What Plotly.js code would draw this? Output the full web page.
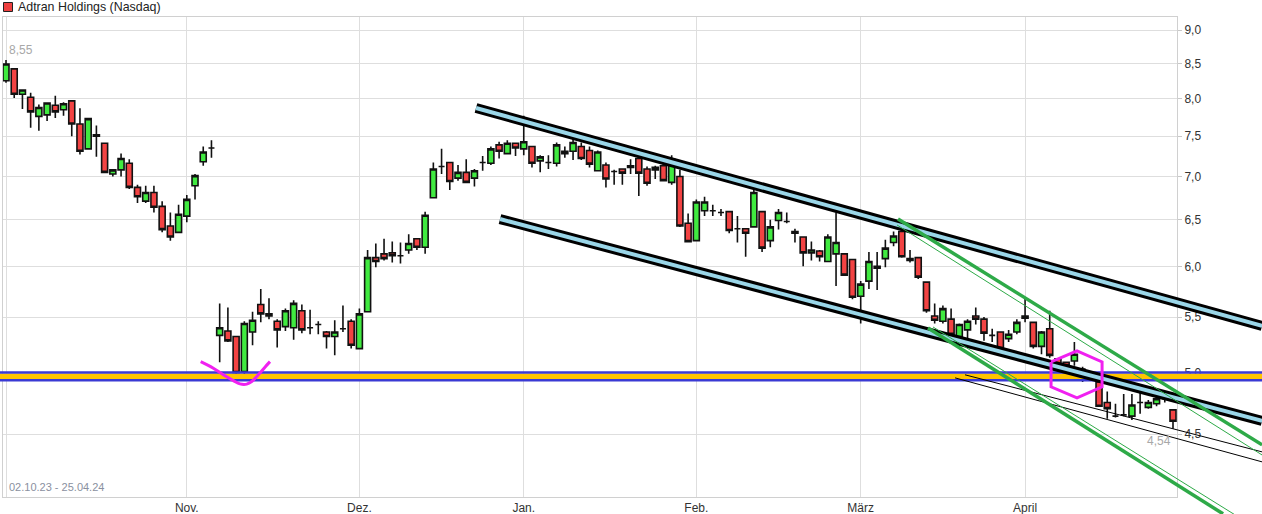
<!DOCTYPE html>
<html><head><meta charset="utf-8">
<script src="https://cdn.plot.ly/plotly-3.0.1.min.js"></script>
<style>html,body{margin:0;padding:0;background:#fff}#chart{width:1262px;height:514px}</style>
</head><body><div id="chart"></div>
<script>
// ---------- data ----------
const dates = [
'2023-10-02','2023-10-03','2023-10-04','2023-10-05','2023-10-06','2023-10-09','2023-10-10','2023-10-11','2023-10-12','2023-10-13','2023-10-16','2023-10-17','2023-10-18','2023-10-19','2023-10-20','2023-10-23','2023-10-24','2023-10-25','2023-10-26','2023-10-27','2023-10-30','2023-10-31',
'2023-11-01','2023-11-02','2023-11-03','2023-11-06','2023-11-07','2023-11-08','2023-11-09','2023-11-10','2023-11-13','2023-11-14','2023-11-15','2023-11-16','2023-11-17','2023-11-20','2023-11-21','2023-11-22','2023-11-24','2023-11-27','2023-11-28','2023-11-29','2023-11-30',
'2023-12-01','2023-12-04','2023-12-05','2023-12-06','2023-12-07','2023-12-08','2023-12-11','2023-12-12','2023-12-13','2023-12-14','2023-12-15','2023-12-18','2023-12-19','2023-12-20','2023-12-21','2023-12-22','2023-12-26','2023-12-27','2023-12-28','2023-12-29',
'2024-01-02','2024-01-03','2024-01-04','2024-01-05','2024-01-08','2024-01-09','2024-01-10','2024-01-11','2024-01-12','2024-01-16','2024-01-17','2024-01-18','2024-01-19','2024-01-22','2024-01-23','2024-01-24','2024-01-25','2024-01-26','2024-01-29','2024-01-30','2024-01-31',
'2024-02-01','2024-02-02','2024-02-05','2024-02-06','2024-02-07','2024-02-08','2024-02-09','2024-02-12','2024-02-13','2024-02-14','2024-02-15','2024-02-16','2024-02-20','2024-02-21','2024-02-22','2024-02-23','2024-02-26','2024-02-27','2024-02-28','2024-02-29',
'2024-03-01','2024-03-04','2024-03-05','2024-03-06','2024-03-07','2024-03-08','2024-03-11','2024-03-12','2024-03-13','2024-03-14','2024-03-15','2024-03-18','2024-03-19','2024-03-20','2024-03-21','2024-03-22','2024-03-25','2024-03-26','2024-03-27','2024-03-28',
'2024-04-01','2024-04-02','2024-04-03','2024-04-04','2024-04-05','2024-04-08','2024-04-09','2024-04-10','2024-04-11','2024-04-12','2024-04-15','2024-04-16','2024-04-17','2024-04-18','2024-04-19','2024-04-22','2024-04-23','2024-04-24','2024-04-25'
];
const open = [
8.25,8.42,8.06,8.02,7.76,7.78,7.91,7.85,7.97,7.66,7.34,7.52,7.41,7.03,7.08,7.16,6.87,6.71,6.81,6.65,6.43,6.36,
6.54,6.89,7.18,7.35,5.33,5.37,5.32,5.01,5.36,5.62,5.53,5.46,5.41,5.40,5.56,5.40,5.43,5.36,5.32,5.39,5.46,
5.21,5.55,6.09,6.13,6.14,6.11,6.17,6.29,6.20,6.75,7.12,7.17,6.98,7.05,6.98,7.17,7.16,7.39,7.28,7.41,
7.34,7.37,7.19,7.17,7.16,7.28,7.31,7.37,7.32,7.07,7.14,7.06,7.09,7.11,7.22,7.09,7.11,7.13,6.93,7.00,6.46,
6.27,6.60,6.60,6.58,6.59,6.40,6.40,6.42,6.59,6.27,6.49,6.48,6.35,6.31,6.14,6.16,6.05,6.13,6.13,6.07,
5.70,5.85,5.98,6.08,6.25,6.37,6.08,6.09,5.84,5.51,5.46,5.48,5.32,5.38,5.51,5.48,5.33,5.36,5.30,5.36,
5.49,5.45,5.23,5.39,5.12,5.09,5.10,5.03,4.98,4.92,4.75,4.64,4.65,4.64,4.75,4.71,4.74,4.78,4.69
];
const high = [
8.55,8.43,8.12,8.08,7.92,7.95,8.04,7.95,7.97,7.87,7.74,7.64,7.41,7.08,7.28,7.21,6.90,6.89,6.89,6.71,6.58,6.67,
6.78,7.03,7.37,7.45,5.63,5.59,5.32,5.46,5.55,5.77,5.68,5.48,5.58,5.66,5.62,5.57,5.46,5.37,5.47,5.61,5.48,
5.58,6.17,6.24,6.29,6.26,6.25,6.34,6.29,6.59,7.17,7.34,7.17,7.14,7.21,7.09,7.25,7.37,7.43,7.45,7.42,
7.77,7.37,7.26,7.26,7.42,7.37,7.47,7.42,7.37,7.32,7.17,7.08,7.09,7.21,7.22,7.12,7.13,7.15,7.26,7.08,6.57,
6.73,6.76,6.67,6.62,6.59,6.54,6.40,6.85,6.59,6.50,6.62,6.58,6.40,6.31,6.26,6.17,6.34,6.58,6.13,6.07,
5.85,6.15,6.15,6.28,6.37,6.41,6.17,6.09,5.84,5.63,5.61,5.58,5.44,5.48,5.59,5.50,5.39,5.36,5.38,5.48,
5.69,5.45,5.37,5.56,5.12,5.09,5.27,5.05,5.01,4.92,4.84,4.74,4.82,4.82,4.83,4.77,4.86,4.80,4.69
];
const low = [
8.22,8.01,7.86,7.61,7.57,7.70,7.74,7.77,7.50,7.27,7.34,7.24,7.04,7.00,7.00,6.85,6.69,6.69,6.58,6.36,6.27,6.35,
6.47,6.73,7.13,7.23,5.09,5.27,4.98,4.93,5.24,5.45,5.48,5.22,5.37,5.29,5.35,5.34,5.34,5.21,5.15,5.36,5.21,
5.21,5.55,5.99,6.06,6.04,6.03,6.13,6.17,6.13,6.75,7.03,6.84,6.95,6.92,6.88,7.07,7.14,7.22,7.28,7.25,
7.26,7.11,7.05,7.09,7.12,7.23,7.20,7.20,7.11,7.07,6.87,6.90,6.90,7.03,6.77,6.89,6.97,6.95,6.90,6.42,6.25,
6.26,6.54,6.54,6.54,6.35,6.25,6.10,6.42,6.15,6.20,6.39,6.46,6.25,6.00,6.06,6.05,6.05,5.80,5.90,5.67,
5.44,5.77,5.76,5.99,6.21,6.09,6.04,5.87,5.54,5.44,5.44,5.30,5.24,5.29,5.43,5.28,5.27,5.21,5.27,5.34,
5.45,5.21,5.16,5.13,5.04,5.03,5.06,4.92,4.93,4.72,4.62,4.63,4.64,4.61,4.66,4.70,4.72,4.75,4.54
];
const close = [
8.49,8.06,8.12,7.82,7.88,7.94,7.82,7.93,7.66,7.31,7.73,7.50,7.05,7.08,7.22,6.87,6.76,6.81,6.64,6.39,6.31,6.56,
6.73,7.01,7.30,7.35,5.40,5.28,5.00,5.44,5.47,5.53,5.51,5.38,5.56,5.63,5.38,5.40,5.43,5.32,5.36,5.39,5.24,
5.53,6.09,6.05,6.08,6.11,6.11,6.24,6.20,6.55,7.09,7.12,6.94,7.05,6.93,7.07,7.17,7.34,7.31,7.41,7.35,
7.43,7.16,7.24,7.17,7.39,7.31,7.42,7.22,7.15,7.30,6.97,7.06,7.04,7.13,7.04,6.92,7.08,6.95,7.21,6.43,6.26,
6.70,6.70,6.60,6.58,6.38,6.40,6.35,6.81,6.19,6.42,6.58,6.48,6.37,6.14,6.17,6.10,6.31,6.25,5.91,5.69,
5.82,6.05,6.00,6.19,6.32,6.10,6.06,5.89,5.56,5.47,5.58,5.34,5.43,5.46,5.48,5.35,5.33,5.21,5.34,5.45,
5.51,5.23,5.36,5.15,5.05,5.06,5.16,5.03,4.96,4.72,4.70,4.64,4.65,4.73,4.75,4.75,4.78,4.78,4.60
];
const monthTickDates = ['2023-10-02','2023-11-01','2023-12-01','2024-01-02','2024-02-01','2024-03-01','2024-04-01'];
const monthTickLabels = ['', 'Nov.', 'Dez.', 'Jan.', 'Feb.', 'März', 'April'];
const yTicks = [4.5, 5, 5.5, 6, 6.5, 7, 7.5, 8, 8.5, 9];
const chartTitle = 'Adtran Holdings (Nasdaq)';
const periodLabel = '02.10.23 - 25.04.24';

// drawn objects: x = trading-day index, y = price
const bandTop = 5.00, bandBottom = 4.935;
const channelUpperX = [57.19, 152.84], channelUpperY = [7.873, 5.417];
const channelLowerX = [60.11, 152.84], channelLowerY = [6.507, 4.602];
const thinAX = [115.48, 152.84], thinAY = [4.955, 4.290];
const thinBX = [116.69, 152.84], thinBY = [4.981, 4.364];
const greenUpThickX = [108.54, 152.84], greenUpThickY = [6.507, 4.417];
const greenUpThinX = [108.42, 152.84], greenUpThinY = [6.441, 4.341];
const greenLoThickX = [112.19, 148.09], greenLoThickY = [5.398, 3.924];
const greenLoThinX = [112.80, 149.55], greenLoThinY = [5.407, 3.917];
const hexX = [127.16, 130.32, 133.37, 133.37, 130.32, 127.16, 127.16];
const hexY = [5.092, 5.189, 5.092, 4.879, 4.787, 4.879, 5.092];
const arcX = [23.69, 25.23, 26.44, 27.66, 28.47, 29.29, 29.90, 30.70, 31.51, 32.12];
const arcY = [5.095, 5.038, 4.981, 4.932, 4.904, 4.902, 4.924, 4.981, 5.047, 5.095];

// ---------- geometry ----------
const W = 1262, H = 514;
const PL = 3, PR = 1177, PT = 17, PB = 497;
const xr = [-0.365, 142.487];
const yr = [0.60627, 0.96393];
const dpx = (PR - PL) / (xr[1] - xr[0]);
const dpy = (PB - PT) / (yr[1] - yr[0]);
const x2r = [xr[0] - PL / dpx, xr[0] + (W - PL) / dpx];
const y2r = [yr[1] - (H - PT) / dpy, yr[1]];

const fmt = v => v.toFixed(2).replace('.', ',');
const maxHigh = Math.max(...high), minLow = Math.min(...low);

function ln(x, y, color, width, extra) {
  return Object.assign({type: 'scatter', mode: 'lines', x: x, y: y, xaxis: 'x2', yaxis: 'y2',
    line: {color: color, width: width}, hoverinfo: 'skip', showlegend: false}, extra || {});
}

const traces = [
  {type: 'candlestick', x: dates, open: open, high: high, low: low, close: close,
   xaxis: 'x', yaxis: 'y', whiskerwidth: 0, hoverinfo: 'skip', showlegend: false,
   increasing: {line: {color: '#111', width: 1.6}, fillcolor: '#40ea40'},
   decreasing: {line: {color: '#111', width: 1.6}, fillcolor: '#f24343'}},
  // horizontal band
  ln(x2r, [(bandTop + bandBottom) / 2, (bandTop + bandBottom) / 2], '#ffc400', 6),
  ln(x2r, [bandTop, bandTop], '#3a3ad4', 2.5),
  ln(x2r, [bandBottom, bandBottom], '#3a3ad4', 2.5),
  // thin black lines
  ln(thinAX, thinAY, '#000', 1),
  ln(thinBX, thinBY, '#000', 1),
  // channels
  ln(channelUpperX, channelUpperY, '#000', 10),
  ln(channelUpperX, channelUpperY, '#9ad6e8', 4),
  ln(channelLowerX, channelLowerY, '#000', 10),
  ln(channelLowerX, channelLowerY, '#9ad6e8', 4),
  // green lines
  ln(greenUpThickX, greenUpThickY, '#2eaa48', 3.5),
  ln(greenUpThinX, greenUpThinY, '#2eaa48', 1),
  ln(greenLoThickX, greenLoThickY, '#2eaa48', 3.5),
  ln(greenLoThinX, greenLoThinY, '#2eaa48', 1),
  // magenta marks
  ln(hexX, hexY, '#f020f0', 3),
  ln(arcX, arcY, '#f020f0', 3, {line: {color: '#f020f0', width: 3, shape: 'spline'}})
];

const gridC = '#dedede', frameC = '#d0d0d0';
const layout = {
  width: W, height: H,
  margin: {l: 0, r: 0, t: 0, b: 0, pad: 0},
  paper_bgcolor: '#fff', plot_bgcolor: 'rgba(0,0,0,0)',
  separators: ',.',
  showlegend: false,
  boxgap: 0.27, boxgroupgap: 0,
  font: {family: 'Liberation Sans, Arial, sans-serif', size: 12, color: '#333'},
  xaxis: {type: 'category', domain: [PL / W, PR / W], range: xr, anchor: 'y',
    tickvals: monthTickDates, ticktext: monthTickLabels, ticks: '',
    showgrid: true, gridcolor: gridC, gridwidth: 1,
    showline: true, mirror: true, linecolor: frameC, linewidth: 1,
    zeroline: false, automargin: false, fixedrange: true,
    rangeslider: {visible: false}, tickfont: {size: 12, color: '#333'}},
  yaxis: {type: 'log', domain: [1 - PB / H, 1 - PT / H], range: yr, anchor: 'x', side: 'right',
    tickvals: yTicks, tickformat: '.1f', ticks: 'outside', ticklen: 4, tickcolor: '#c8c8c8',
    showgrid: true, gridcolor: gridC, gridwidth: 1,
    showline: true, mirror: true, linecolor: frameC, linewidth: 1,
    zeroline: false, automargin: false, fixedrange: true, tickfont: {size: 12, color: '#333'}},
  xaxis2: {domain: [0, 1], range: x2r, anchor: 'y2', visible: false, fixedrange: true},
  yaxis2: {type: 'log', domain: [0, 1 - PT / H], range: y2r, anchor: 'x2', visible: false, fixedrange: true},
  shapes: [
    {type: 'rect', xref: 'paper', yref: 'paper', x0: 3.5 / W, x1: 12.5 / W, y0: 1 - 11.5 / H, y1: 1 - 2.5 / H,
     fillcolor: '#ee4040', line: {color: '#222', width: 1}}
  ],
  annotations: [
    {xref: 'paper', yref: 'paper', x: 16 / W, y: 1 - 7 / H, xanchor: 'left', yanchor: 'middle',
     text: chartTitle, showarrow: false, font: {size: 12.4, color: '#222'}},
    {xref: 'paper', yref: 'paper', x: 7 / W, y: 1 - 50 / H, xanchor: 'left', yanchor: 'middle',
     text: fmt(maxHigh), showarrow: false, font: {size: 12, color: '#a8a8a8'}},
    {xref: 'paper', yref: 'paper', x: 1159 / W, y: 1 - 441 / H, xanchor: 'center', yanchor: 'middle',
     text: fmt(minLow), showarrow: false, font: {size: 12, color: '#a8a8a8'}},
    {xref: 'paper', yref: 'paper', x: 7 / W, y: 1 - 487 / H, xanchor: 'left', yanchor: 'middle',
     text: periodLabel, showarrow: false, font: {size: 11, color: '#8a90a0'}}
  ]
};

Plotly.newPlot('chart', traces, layout, {staticPlot: true, displayModeBar: false});
</script>
</body></html>
